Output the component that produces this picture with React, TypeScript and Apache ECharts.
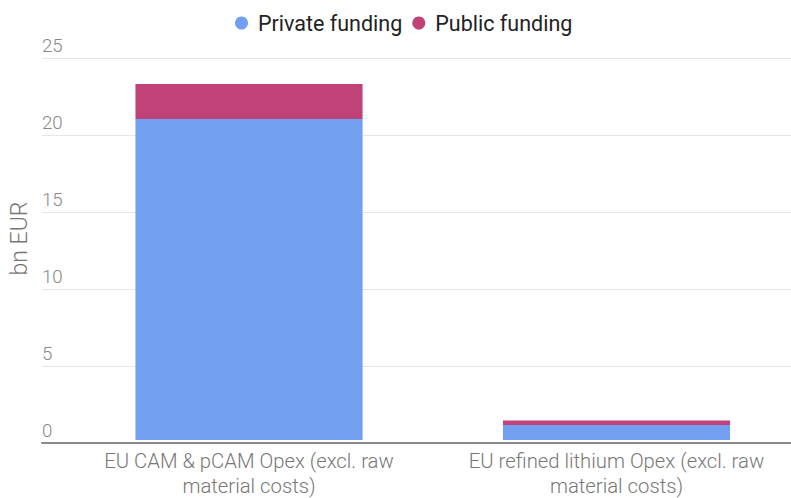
import React, { useEffect, useRef } from "react";
import * as echarts from "echarts";

const categories = [
  "EU CAM & pCAM Opex (excl. raw material costs)",
  "EU refined lithium Opex (excl. raw material costs)",
];
const privateFunding = [21.0, 0.98];
const publicFunding = [2.3, 0.3];
const yTicks = { min: 0, max: 25, interval: 5 };
const seriesNames = ["Private funding", "Public funding"];

export default function App() {
  const ref = useRef<HTMLDivElement>(null);
  useEffect(() => {
    if (!ref.current) return;
    const chart = echarts.init(ref.current, null, { renderer: "svg" });
    const font = "Roboto, 'Noto Sans', sans-serif";
    chart.setOption({
      animation: false,
      textStyle: { fontFamily: font },
      legend: {
        top: 7,
        left: 230,
        icon: "circle",
        itemWidth: 13,
        itemHeight: 13,
        itemGap: 10,
        textStyle: { fontSize: 21.5, color: "#222", fontFamily: font, padding: [0, 0, 0, 5] },
        data: seriesNames,
      },
      grid: [
        { left: 65.25, width: 735, top: 58, bottom: 55 },
        { left: 42, right: 19, top: 58, bottom: 55 },
      ],
      xAxis: [
        {
          type: "category",
          gridIndex: 0,
          data: categories,
          axisLine: { show: false },
          axisTick: { show: false },
          axisLabel: {
            interval: 0,
            margin: 8,
            fontSize: 20.3,
            fontWeight: 300,
            color: "#777",
            lineHeight: 25,
            fontFamily: font,
            formatter: (v: string) => v.replace(" material", "\nmaterial"),
          },
        },
        {
          type: "value",
          gridIndex: 1,
          min: 0,
          max: 1,
          z: 5,
          axisLine: { show: true, lineStyle: { color: "#8a8a8a", width: 2 } },
          axisTick: { show: false },
          axisLabel: { show: false },
          splitLine: { show: false },
        },
      ],
      yAxis: [
        {
          type: "value",
          gridIndex: 0,
          min: yTicks.min,
          max: yTicks.max,
          interval: yTicks.interval,
          show: false,
        },
        {
          type: "value",
          gridIndex: 1,
          min: yTicks.min,
          max: yTicks.max,
          interval: yTicks.interval,
          name: "bn EUR",
          nameLocation: "middle",
          nameRotate: 90,
          nameGap: 8,
          nameTextStyle: {
            fontSize: 23,
            fontWeight: 300,
            color: "#777",
            fontFamily: font,
            padding: [0, 0, 0, 24],
          },
          axisLine: { show: false },
          axisTick: { show: false },
          axisLabel: {
            inside: true,
            margin: 0,
            fontSize: 18.7,
            fontWeight: 300,
            color: "#888",
            verticalAlign: "bottom",
            padding: [0, 0, 3, 0],
            fontFamily: font,
          },
          splitLine: { show: true, lineStyle: { color: "#e6e6e6", width: 1 } },
        },
      ],
      series: [
        {
          name: seriesNames[0],
          type: "bar",
          stack: "total",
          xAxisIndex: 0,
          yAxisIndex: 0,
          data: privateFunding,
          barCategoryGap: "38.2%",
          itemStyle: { color: "#739ff0" },
        },
        {
          name: seriesNames[1],
          type: "bar",
          stack: "total",
          xAxisIndex: 0,
          yAxisIndex: 0,
          data: publicFunding,
          barCategoryGap: "38.2%",
          itemStyle: { color: "#c04276" },
        },
      ],
    });
    return () => chart.dispose();
  }, []);
  return (
    <div style={{ width: 791, height: 498, position: "absolute", left: 0, top: 0, overflow: "hidden" }}>
      <div ref={ref} style={{ width: 810, height: 498 }} />
    </div>
  );
}
